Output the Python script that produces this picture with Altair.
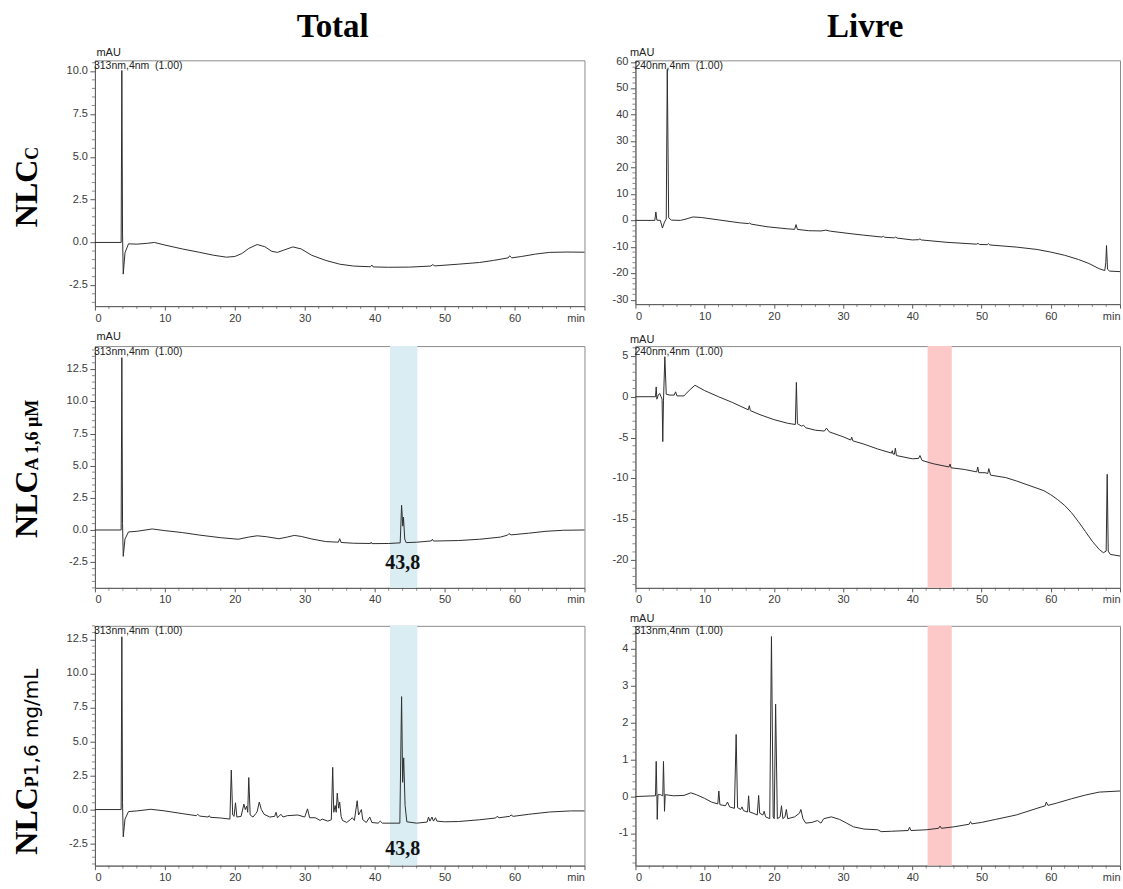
import altair as alt
import pandas as pd

SERIF = "Liberation Serif"
SANS = "Liberation Sans"

# ---------------- data ----------------
COL_TITLES = ["Total", "Livre"]
ROW_MAIN = "NLC"
ROW_SUBS = ["C", "A 1,6 \u00b5M", "P"]
ROW3_UNIT = "\u00a01,6 mg/mL"
WAVE = ["313nm,4nm \u00a0(1.00)", "240nm,4nm \u00a0(1.00)", "313nm,4nm \u00a0(1.00)",
        "240nm,4nm \u00a0(1.00)", "313nm,4nm \u00a0(1.00)", "313nm,4nm \u00a0(1.00)"]
PEAK_LABEL = "43,8"
PEAK_POS = 44.0
BAND_TOTAL = [42.2, 46.1]
BAND_LIVRE = [42.2, 45.7]

TL = [(0, 0), (3.75, 0), (3.85, 10.05), (3.95, 0.5), (4.05, -1.85), (4.3, -0.6), (4.8, -0.08),
      (6, -0.1), (7.5, -0.05), (8.5, 0.0), (10, -0.15), (12.5, -0.38), (15, -0.58), (17, -0.75),
      (18.8, -0.86), (20, -0.82), (21, -0.65), (22, -0.35), (23.2, -0.12), (24.3, -0.25),
      (25.3, -0.52), (26.1, -0.58), (27, -0.45), (28.3, -0.26), (29.5, -0.38), (31, -0.75),
      (33, -1.05), (35, -1.27), (37, -1.38), (39.4, -1.42), (39.6, -1.32), (39.8, -1.43),
      (42, -1.45), (45, -1.44), (48, -1.38), (48.3, -1.3), (48.6, -1.37), (52, -1.27),
      (55, -1.17), (57, -1.05), (59.1, -0.9), (59.3, -0.78), (59.6, -0.9), (61, -0.82),
      (63, -0.68), (65, -0.58), (67.5, -0.56), (70, -0.57)]

TR = [(0, 0), (2.8, 0), (2.95, 3.2), (3.1, 0.1), (3.6, 0), (3.9, -2.9), (4.2, -0.6), (4.45, 0.5),
      (4.6, 57.2), (4.8, 1), (5.2, 0.1), (6.5, 0), (7.3, 0.5), (8.3, 1.3), (9.5, 1.1), (12, 0.2),
      (15, -0.9), (16.3, -1.2), (16.5, -1.0), (16.7, -1.4), (19, -2.4), (22, -3.2), (23.0, -3.4),
      (23.2, -1.6), (23.4, -3.4), (25, -3.9), (26.8, -4.0), (27.5, -3.7), (28.2, -4.1),
      (31, -5.0), (33, -5.6), (35.6, -6.3), (35.8, -6.0), (36.0, -6.4), (37.4, -6.6),
      (37.6, -6.3), (37.8, -6.7), (40, -7.4), (40.9, -7.3), (41.1, -7.0), (41.3, -7.4),
      (45, -8.3), (49.3, -9.0), (49.5, -8.7), (49.7, -9.1), (50.8, -9.2), (51, -8.8),
      (51.2, -9.3), (55, -10.1), (58, -11.0), (60, -12.0), (62, -13.2), (64, -14.8),
      (65.5, -16.3), (67, -18.3), (67.8, -19.0), (67.95, -16), (68.05, -9.5), (68.2, -18.5),
      (68.5, -19.2), (70, -19.4)]

ML = [(0, 0), (3.75, 0), (3.85, 13.4), (3.95, 0.5), (4.05, -2.05), (4.3, -0.7), (4.8, -0.15),
      (6, -0.1), (8.2, 0.08), (10, -0.05), (12.5, -0.2), (15, -0.4), (18, -0.6), (20.5, -0.72),
      (22, -0.55), (23.2, -0.45), (24.5, -0.52), (26.3, -0.68), (27.5, -0.55), (28.5, -0.42),
      (29.5, -0.5), (31, -0.7), (33, -0.9), (34.8, -0.95), (35.0, -0.68), (35.2, -0.97),
      (37, -1.03), (39.4, -1.05), (39.5, -0.95), (39.6, -1.06), (42, -1.05), (43.65, -1.0),
      (43.85, 1.92), (44.02, 0.3), (44.12, 1.0), (44.3, -0.7), (44.5, -0.98), (46, -0.95),
      (48.1, -0.85), (48.25, -0.72), (48.4, -0.86), (52, -0.82), (55, -0.72), (58, -0.55),
      (59, -0.4), (59.2, -0.28), (59.5, -0.38), (62, -0.25), (64.5, -0.1), (67, -0.02), (70, 0.0)]

MR = [(0, 0), (2.9, 0), (3.0, 1.2), (3.1, -0.3), (3.3, 0.2), (3.5, 0.4), (3.7, 0.0), (3.85, -0.3),
      (3.95, -5.5), (4.05, -0.5), (4.25, 4.9), (4.45, 0.3), (5.0, 0.2), (5.6, 0.2), (5.8, 0.6),
      (6.0, 0.1), (7.0, 0.1), (7.8, 0.8), (8.6, 1.4), (10, 0.75), (12, 0.0), (14, -0.7),
      (16.3, -1.6), (16.45, -1.1), (16.6, -1.7), (18, -2.2), (20, -2.8), (22, -3.25),
      (23.1, -3.4), (23.25, 1.75), (23.4, -3.3), (24.0, -3.6), (24.3, -3.5), (24.6, -3.8),
      (26, -4.1), (27.3, -4.2), (27.6, -3.85), (28, -4.3), (30, -4.9), (31.1, -5.3),
      (31.25, -4.95), (31.4, -5.4), (33, -5.8), (35, -6.4), (37.0, -6.9), (37.1, -6.6),
      (37.2, -7.0), (37.4, -7.05), (37.55, -6.3), (37.7, -7.2), (40, -7.6), (40.9, -7.55),
      (41.1, -7.2), (41.4, -7.8), (43, -8.2), (45.3, -8.6), (45.45, -8.25), (45.6, -8.7),
      (47.5, -8.9), (49.3, -9.2), (49.45, -8.6), (49.6, -9.3), (50.5, -9.3), (50.9, -9.4),
      (51.05, -8.8), (51.3, -9.6), (53.5, -9.9), (55, -10.3), (57, -10.9), (59, -11.5),
      (60, -12.0), (61, -12.6), (62, -13.3), (63, -14.2), (64, -15.3), (65, -16.5),
      (66, -17.7), (67, -18.7), (67.6, -19.1), (68.0, -18.9), (68.15, -9.5), (68.3, -18.9),
      (68.6, -19.3), (70, -19.5)]

BL = [(0, 0), (3.75, 0), (3.85, 12.7), (3.95, 0.5), (4.05, -2.0), (4.3, -0.7), (4.8, -0.15),
      (6, -0.1), (8, 0.02), (10, -0.1), (12.5, -0.3), (14.5, -0.45), (14.7, -0.35), (15, -0.48),
      (16.2, -0.55), (16.35, -0.45), (16.5, -0.57), (18, -0.62), (19.3, -0.7), (19.5, 2.9),
      (19.7, -0.4), (19.9, -0.5), (20.1, 0.5), (20.3, -0.55), (20.9, -0.5), (21.3, 0.4),
      (21.5, 0.0), (21.7, 0.25), (21.85, -0.2), (22.0, 2.35), (22.2, -0.4), (22.6, -0.55),
      (23.0, -0.3), (23.2, -0.15), (23.5, 0.55), (23.8, 0.0), (24.2, -0.35), (25.0, -0.55),
      (25.7, -0.5), (25.9, -0.2), (26.1, -0.6), (26.6, -0.35), (26.9, -0.55), (27.5, -0.45),
      (29, -0.4), (30.0, -0.55), (30.4, 0.05), (30.7, -0.6), (31.5, -0.6), (32.2, -0.8),
      (32.5, -0.7), (33.3, -0.85), (33.8, -0.75), (34.0, 3.1), (34.15, -0.2), (34.35, 0.3),
      (34.5, -0.2), (34.65, 1.2), (34.85, 0.1), (35.0, 0.55), (35.2, -0.5), (35.4, -0.8),
      (36, -0.95), (36.5, -0.75), (36.8, -0.6), (37.1, -0.8), (37.5, 0.65), (37.7, -0.4),
      (37.9, -0.2), (38.1, 0.0), (38.3, -0.75), (38.8, -0.95), (39.3, -0.55), (39.6, -0.95),
      (40.5, -1.0), (40.8, -0.85), (41.1, -1.0), (43.6, -1.0), (43.85, 8.3), (44.0, 2.0),
      (44.15, 3.8), (44.35, 0.3), (44.6, -0.9), (46, -1.0), (47.5, -0.92), (47.7, -0.55),
      (47.9, -0.85), (48.2, -0.55), (48.4, -0.85), (48.7, -0.6), (48.9, -0.85), (50, -0.9),
      (52, -0.88), (55, -0.75), (57.3, -0.62), (57.5, -0.5), (57.8, -0.6), (59.3, -0.5),
      (59.5, -0.4), (59.8, -0.5), (62, -0.35), (65, -0.18), (68, -0.1), (70, -0.1)]

BR = [(0, 0), (2.9, 0.02), (3.0, 0.95), (3.1, 0.05), (3.15, -0.62), (3.25, 0.05), (3.6, 0.05),
      (3.95, 0.02), (4.05, 0.95), (4.15, 0.1), (4.2, -0.4), (4.3, 0.05), (5.5, 0.02), (7, 0.03),
      (8.0, 0.1), (8.8, 0.05), (10, -0.05), (11, -0.15), (11.9, -0.2), (12.05, 0.15),
      (12.2, -0.22), (13, -0.25), (13.3, -0.15), (13.6, -0.28), (14.3, -0.32), (14.55, 1.68),
      (14.75, -0.3), (15.2, -0.35), (15.4, -0.28), (15.6, -0.38), (16.2, -0.42), (16.35, 0.02),
      (16.5, -0.42), (17.0, -0.45), (17.6, -0.5), (17.8, 0.03), (17.95, -0.45), (18.4, -0.5),
      (18.6, -0.4), (18.8, -0.55), (19.4, -0.6), (19.65, 4.33), (19.9, -0.55), (20.05, -0.6),
      (20.25, 2.5), (20.5, -0.6), (20.9, -0.55), (21.1, -0.25), (21.3, -0.6), (21.6, -0.55),
      (21.8, -0.35), (22.0, -0.6), (23.0, -0.55), (23.7, -0.45), (23.9, -0.35), (24.2, -0.6),
      (24.6, -0.72), (25.5, -0.7), (26.3, -0.65), (26.8, -0.72), (27.2, -0.6), (28.3, -0.55),
      (29.5, -0.62), (30.5, -0.72), (31.5, -0.82), (33, -0.88), (35, -0.9), (35.5, -0.95),
      (37, -0.94), (39.4, -0.92), (39.6, -0.83), (39.8, -0.92), (42, -0.9), (43.8, -0.86),
      (44.0, -0.8), (44.2, -0.86), (46, -0.82), (48.2, -0.75), (48.4, -0.68), (48.6, -0.74),
      (50, -0.7), (52, -0.62), (55, -0.5), (58, -0.32), (59.2, -0.25), (59.35, -0.15),
      (59.6, -0.24), (61, -0.17), (63, -0.06), (65, 0.04), (67, 0.12), (70, 0.15)]

# ---------------- layout ----------------
LAB_W = 44
LEFT_W = 490
RIGHT_W = 485
HEAD_H = 22
ROW_H = [248, 242, 240]
ROW_GAP = 38
COL_GAP = 51

LINE_COLOR = "#2e2e2e"
FRAME = "#8c8c8c"
AXIS_COLOR = "#5a5a5a"
LABEL_COLOR = "#3a3a3a"
BLUE = "#d9edf3"
RED = "#fcc8c8"


def tick_list(lo, hi, step):
    n = int(round((hi - lo) / step))
    return [round(lo + i * step, 4) for i in range(n + 1)]


X_SCALE = alt.Scale(domain=[0, 70], nice=False, zero=False)
X_AXIS = alt.Axis(
    values=tick_list(0, 70, 10),
    labelExpr="datum.value >= 70 ? 'min' : datum.label",
    labelFlush=True, labelFlushOffset=0,
    tickSize=4, labelOverlap=False, labelPadding=2, title=None,
)
X_MINOR = [v for v in tick_list(0, 70, 2) if v % 10 != 0]


def y_axis(majors, mau):
    kw = dict(values=majors, labels=False, tickSize=5)
    if mau is None:
        kw["title"] = None
    else:
        kw.update(title="mAU", titleAngle=0, titleAlign="left",
                  titleX=mau[0], titleY=mau[1], titleFont=SANS, titleFontSize=11,
                  titleFontWeight="normal", titleColor="#222222")
    return alt.Axis(**kw)


def fmt_label(v, fmt):
    return f"{v:.1f}" if fmt == ".1f" else f"{int(round(v))}"


def split_ticks(ticks):
    lo, hi, step, major = ticks
    all_ticks = tick_list(lo, hi, step)
    majors = [v for v in all_ticks if abs(v / major - round(v / major)) < 1e-6]
    minors = [v for v in all_ticks if v not in majors]
    return majors, minors


def panel(trace, dom, ticks, fmt, w, h, wave, mau, band=None, band_color=None, ann_y=None):
    majors, minors = split_ticks(ticks)
    ys = alt.Scale(domain=dom, nice=False, zero=False)
    yax = y_axis(majors, mau)
    layers = []
    if band is not None:
        layers.append(
            alt.Chart(pd.DataFrame({"a": [band[0]], "b": [band[1]]}))
            .mark_rect(color=band_color)
            .encode(x=alt.X("a:Q", scale=X_SCALE, axis=X_AXIS), x2="b:Q")
        )
    df = pd.DataFrame(trace, columns=["t", "v"])
    layers.append(
        alt.Chart(df).mark_line(color=LINE_COLOR, strokeWidth=1)
        .encode(x=alt.X("t:Q", scale=X_SCALE, axis=X_AXIS),
                y=alt.Y("v:Q", scale=ys, axis=yax))
    )
    layers.append(
        alt.Chart(pd.DataFrame({"tick": majors, "lab": [fmt_label(v, fmt) for v in majors]}))
        .mark_text(align="right", baseline="middle", font=SANS, fontSize=11, color=LABEL_COLOR)
        .encode(y=alt.Y("tick:Q", scale=ys, axis=yax), x=alt.value(-7), text="lab:N")
    )
    layers.append(
        alt.Chart(pd.DataFrame({"ym": minors}))
        .mark_tick(color=AXIS_COLOR, thickness=1, size=3, orient="horizontal")
        .encode(y=alt.Y("ym:Q", scale=ys, axis=yax), x=alt.value(-1.5))
    )
    layers.append(
        alt.Chart(pd.DataFrame({"xm": X_MINOR}))
        .mark_tick(color=AXIS_COLOR, thickness=1, size=3, orient="vertical")
        .encode(x=alt.X("xm:Q", scale=X_SCALE, axis=X_AXIS), y=alt.value(h + 1.5))
    )
    layers.append(
        alt.Chart(pd.DataFrame({"s": [wave]}))
        .mark_text(align="left", baseline="alphabetic", font=SANS, fontSize=10.5, color="#222222")
        .encode(x=alt.value(-1), y=alt.value(8.5), text="s:N")
    )
    if ann_y is not None:
        layers.append(
            alt.Chart(pd.DataFrame({"x": [PEAK_POS], "y": [ann_y], "s": [PEAK_LABEL]}))
            .mark_text(align="center", baseline="middle", font=SERIF, fontSize=20,
                       fontWeight="bold", color="#111111")
            .encode(x=alt.X("x:Q", scale=X_SCALE, axis=X_AXIS),
                    y=alt.Y("y:Q", scale=ys, axis=yax), text="s:N")
        )
    return alt.layer(*layers).properties(
        width=w, height=h, view=alt.ViewBackground(stroke=FRAME)
    )


def text_piece(s, x, y, font, size, weight="bold", angle=0, align="left", baseline="alphabetic"):
    return (
        alt.Chart(pd.DataFrame({"s": [s]}))
        .mark_text(align=align, baseline=baseline, font=font, fontSize=size,
                   fontWeight=weight, angle=angle, color="#000000")
        .encode(x=alt.value(x), y=alt.value(y), text="s:N")
    )


MAIN_SIZE = 32
SUB_SIZE = 18
MAIN_LEN = 2.111 * MAIN_SIZE


def row_label(i, bottom):
    junction = bottom - MAIN_LEN
    parts = [text_piece(ROW_MAIN, 37, bottom, SERIF, MAIN_SIZE, angle=270),
             text_piece(ROW_SUBS[i], 38.5, junction, SERIF, SUB_SIZE, angle=270)]
    if i == 2:
        parts.append(text_piece(ROW3_UNIT, 38.5, junction - 0.611 * SUB_SIZE, "DejaVu Sans",
                                20, weight="normal", angle=270))
    return alt.layer(*parts).properties(width=LAB_W, height=ROW_H[i])


spacer = text_piece("", 0, 2, SANS, 10, baseline="top").properties(width=LAB_W, height=HEAD_H)
head_l = text_piece(COL_TITLES[0], 238, 37, SERIF, 33, align="center").properties(width=LEFT_W, height=HEAD_H)
head_r = text_piece(COL_TITLES[1], 230, 37, SERIF, 33, align="center").properties(width=RIGHT_W, height=HEAD_H)

p_tl = panel(TL, [-3.72, 10.64], (-3.5, 10.5, 0.5, 2.5), ".1f", LEFT_W, 246, WAVE[0], (1, -3))
p_tr = panel(TR, [-31.7, 60.6], (-30, 60, 2, 10), "d", RIGHT_W, 244, WAVE[1], (-6, -3))
p_ml = panel(ML, [-4.5, 14.3], (-4.5, 14.0, 0.5, 2.5), ".1f", LEFT_W, 242, WAVE[2], (1, -5),
             band=BAND_TOTAL, band_color=BLUE, ann_y=-2.6)
p_mr = panel(MR, [-23.4, 6.2], (-23, 6, 1, 5), "d", RIGHT_W, 242, WAVE[3], (-6, -2),
             band=BAND_LIVRE, band_color=RED)
p_bl = panel(BL, [-4.12, 13.5], (-4.0, 13.5, 0.5, 2.5), ".1f", LEFT_W, 240, WAVE[4], None,
             band=BAND_TOTAL, band_color=BLUE, ann_y=-2.9)
p_br = panel(BR, [-1.87, 4.62], (-1.8, 4.6, 0.2, 1), "d", RIGHT_W, 240, WAVE[5], (-6, -2),
             band=BAND_LIVRE, band_color=RED)

cells = [spacer, head_l, head_r,
         row_label(0, 167), p_tl, p_tr,
         row_label(1, 192), p_ml, p_mr,
         row_label(2, 229), p_bl, p_br]

chart = (
    alt.concat(*cells, columns=3, spacing={"row": ROW_GAP, "column": COL_GAP}, bounds="flush")
    .properties(padding=0, background="white")
    .configure_view(stroke=None)
    .configure_axis(grid=False, labelFont=SANS, labelFontSize=11, labelColor=LABEL_COLOR,
                    domainColor=AXIS_COLOR, tickColor=AXIS_COLOR)
)

chart.save("out.html", embed_options={"renderer": "svg", "actions": False})
